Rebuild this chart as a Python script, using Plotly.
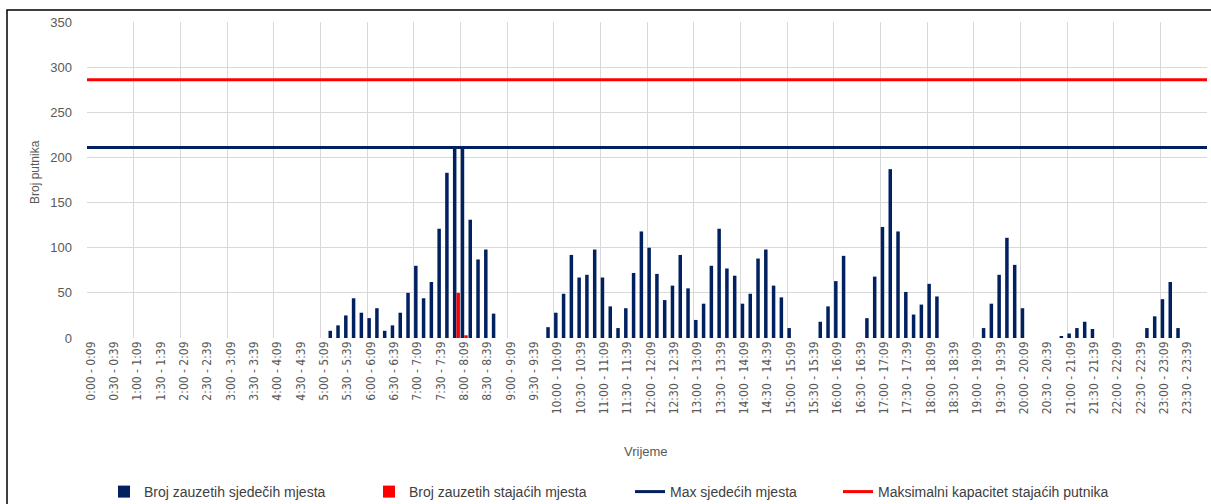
import plotly.graph_objects as go

# ---- data -----------------------------------------------------------------
CATEGORIES = [f"{h}:{m:02d} - {h}:{m + 9:02d}" for h in range(24) for m in range(0, 60, 10)]

# occupied seats per 10-minute interval (12 values per row = 2 hours)
SEATED = [
    0, 0, 0, 0, 0, 0, 0, 0, 0, 0, 0, 0,              # 0:00 - 1:59
    0, 0, 0, 0, 0, 0, 0, 0, 0, 0, 0, 0,              # 2:00 - 3:59
    0, 0, 0, 0, 0, 0, 0, 8, 14, 25, 44, 28,          # 4:00 - 5:59
    22, 33, 8, 14, 28, 50, 80, 44, 62, 121, 183, 211,  # 6:00 - 7:59
    211, 131, 87, 98, 27, 0, 0, 0, 0, 0, 0, 12,      # 8:00 - 9:59
    28, 49, 92, 67, 70, 98, 67, 35, 11, 33, 72, 118,  # 10:00 - 11:59
    100, 71, 42, 58, 92, 55, 20, 38, 80, 121, 77, 69,  # 12:00 - 13:59
    38, 49, 88, 98, 58, 45, 11, 0, 0, 0, 18, 35,     # 14:00 - 15:59
    63, 91, 0, 0, 22, 68, 123, 187, 118, 51, 26, 37,  # 16:00 - 17:59
    60, 46, 0, 0, 0, 0, 0, 11, 38, 70, 111, 81,      # 18:00 - 19:59
    33, 0, 0, 0, 0, 2, 5, 11, 18, 10, 0, 0,          # 20:00 - 21:59
    0, 0, 0, 0, 11, 24, 43, 62, 11, 0, 0, 0,         # 22:00 - 23:59
]

# occupied standing places per 10-minute interval
STANDING = [
    0, 0, 0, 0, 0, 0, 0, 0, 0, 0, 0, 0,
    0, 0, 0, 0, 0, 0, 0, 0, 0, 0, 0, 0,
    0, 0, 0, 0, 0, 0, 0, 0, 0, 0, 0, 0,
    0, 0, 0, 0, 0, 0, 0, 0, 0, 0, 0, 50,
    3, 0, 0, 0, 0, 0, 0, 0, 0, 0, 0, 0,
    0, 0, 0, 0, 0, 0, 0, 0, 0, 0, 0, 0,
    0, 0, 0, 0, 0, 0, 0, 0, 0, 0, 0, 0,
    0, 0, 0, 0, 0, 0, 0, 0, 0, 0, 0, 0,
    0, 0, 0, 0, 0, 0, 0, 0, 0, 0, 0, 0,
    0, 0, 0, 0, 0, 0, 0, 0, 0, 0, 0, 0,
    0, 0, 0, 0, 0, 0, 0, 0, 0, 0, 0, 0,
    0, 0, 0, 0, 0, 0, 0, 0, 0, 0, 0, 0,
]

MAX_SEATED = 211
MAX_STANDING = 286

SERIES_NAMES = [
    "Broj zauzetih sjedečih mjesta",
    "Broj zauzetih stajaćih mjesta",
    "Max sjedećih mjesta",
    "Maksimalni kapacitet stajaćih putnika",
]
Y_TITLE = "Broj putnika"
X_TITLE = "Vrijeme"

# ---- styling / layout -------------------------------------------------------
NAVY = "#002060"
RED = "#FF0000"
GRID = "#D9D9D9"
TXT = "#595959"
FONT = "Liberation Sans, Arial, sans-serif"

W, H = 1211, 504
L, R, T, B = 87, 4, 22, 166
PW, PH = W - L - R, H - T - B


def px_x(p):
    return (p - L) / PW


def px_y(p):
    return (H - B - p) / PH


idx = list(range(len(CATEGORIES)))
edges = [idx[0] - 0.5, idx[-1] + 0.5]

fig = go.Figure()
fig.add_bar(x=idx, y=SEATED, name=SERIES_NAMES[0], marker_color=NAVY,
            marker_line_width=0, legend="legend", showlegend=True)
fig.add_bar(x=idx, y=STANDING, name=SERIES_NAMES[1], marker_color=RED,
            marker_line_width=0, legend="legend2", showlegend=True)
fig.add_scatter(x=edges, y=[MAX_SEATED, MAX_SEATED], mode="lines",
                line=dict(color=NAVY, width=3), name=SERIES_NAMES[2],
                legend="legend3", showlegend=True)
fig.add_scatter(x=edges, y=[MAX_STANDING, MAX_STANDING], mode="lines",
                line=dict(color=RED, width=3), name=SERIES_NAMES[3],
                legend="legend4", showlegend=True)

legend_common = dict(orientation="h", yanchor="middle", y=px_y(492), xanchor="left",
                     font=dict(family=FONT, size=14, color="#404040"),
                     bgcolor="rgba(0,0,0,0)", visible=True)
text_starts = [146, 411, 672, 880]

fig.update_layout(
    width=W, height=H,
    showlegend=True,
    margin=dict(l=L, r=R, t=T, b=B, autoexpand=False),
    paper_bgcolor="white", plot_bgcolor="white",
    font=dict(family=FONT, color=TXT, size=12),
    barmode="group", bargap=0.1, bargroupgap=0.0,
    legend=dict(x=px_x(text_starts[0] - 42), **legend_common),
    legend2=dict(x=px_x(text_starts[1] - 42), **legend_common),
    legend3=dict(x=px_x(text_starts[2] - 42), **legend_common),
    legend4=dict(x=px_x(text_starts[3] - 42), **legend_common),
    xaxis=dict(
        range=edges, tickmode="array", tickvals=idx[::3], ticktext=CATEGORIES[::3],
        tickangle=-90, showgrid=False, zeroline=False, showline=False, ticks="",
        tickfont=dict(family="Liberation Sans Narrow, DejaVu Sans Condensed, Liberation Sans",
                      size=12, color=TXT),
        minor=dict(tickmode="linear", tick0=-0.5, dtick=6, showgrid=True,
                   gridcolor=GRID, gridwidth=1, ticks=""),
        automargin=False,
    ),
    yaxis=dict(
        range=[0, 350], dtick=50, tick0=0, showgrid=True, gridcolor=GRID, gridwidth=1,
        zeroline=False, showline=False, ticks="", ticklabelstandoff=14,
        tickfont=dict(family=FONT, size=13, color=TXT), automargin=False,
    ),
    annotations=[
        dict(text=Y_TITLE, xref="paper", yref="paper", x=px_x(35), y=px_y(172),
             textangle=-90, showarrow=False, xanchor="center", yanchor="middle",
             font=dict(family=FONT, size=12, color=TXT)),
        dict(text=X_TITLE, xref="paper", yref="paper", x=px_x(646), y=px_y(451),
             showarrow=False, xanchor="center", yanchor="middle",
             font=dict(family=FONT, size=13, color=TXT)),
    ],
    shapes=[
        dict(type="rect", xref="paper", yref="paper", layer="above",
             x0=px_x(7), x1=px_x(1216), y0=px_y(512), y1=px_y(10),
             line=dict(color="black", width=1.5), fillcolor="rgba(0,0,0,0)"),
    ],
)

fig.write_html(
    "out.html",
    config={"displayModeBar": False},
    post_script="document.body.style.margin='0';document.body.style.overflow='hidden';",
)
